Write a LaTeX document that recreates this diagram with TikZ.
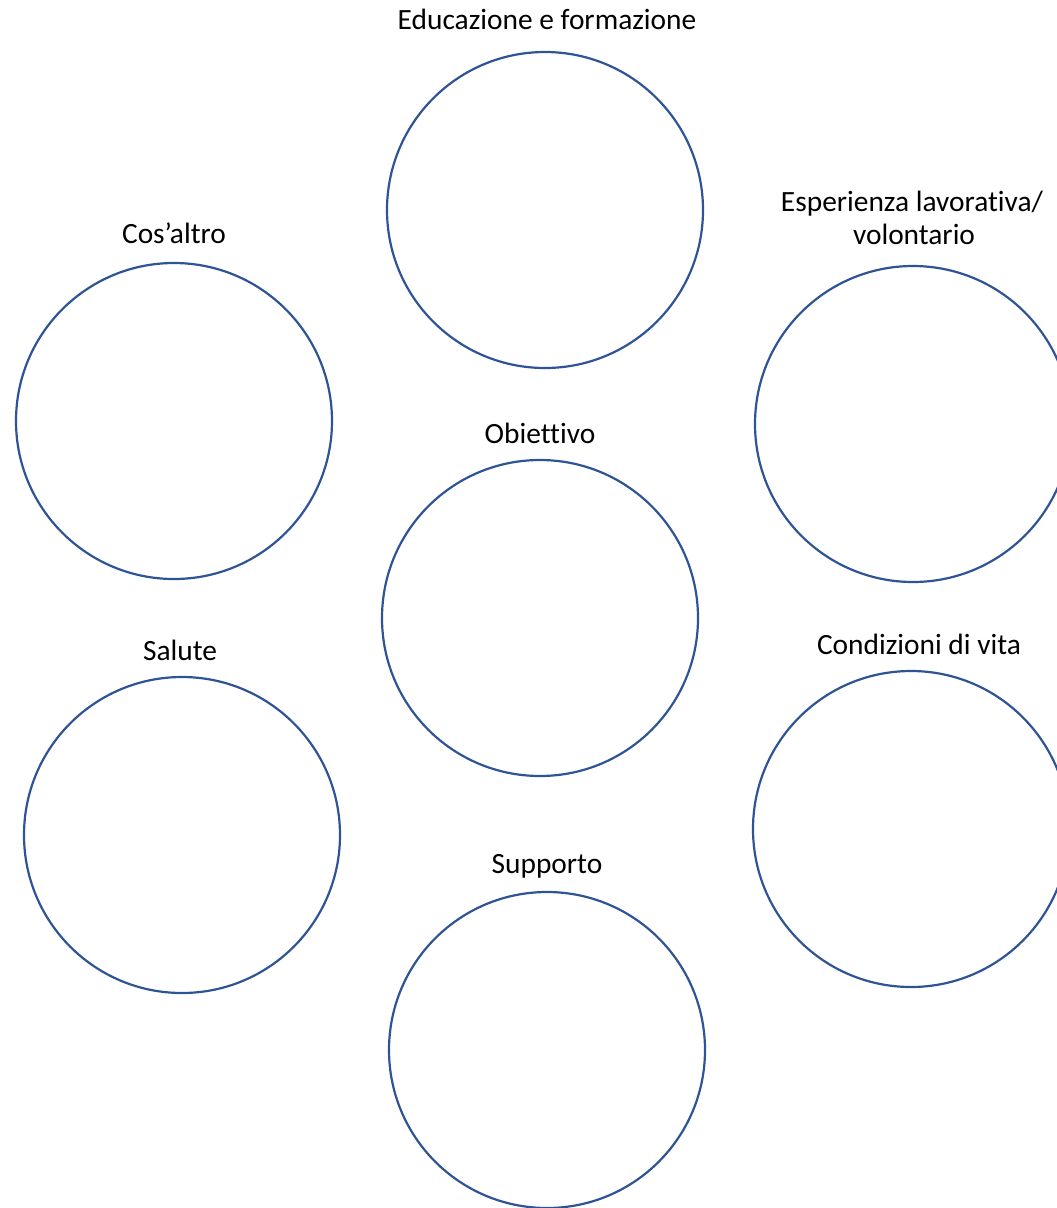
\documentclass[tikz,border=0pt]{standalone}
\usepackage{fontspec}
\setmainfont[Ligatures={NoCommon}]{Carlito}
\definecolor{ringblue}{RGB}{47,84,150}
\tikzset{
  ring/.style={circle, draw=ringblue, line width=2.2pt, minimum size=316pt, inner sep=0pt},
  lbl/.style={anchor=base, inner sep=0pt, font=\fontsize{29.4}{35}\selectfont, text=black}
}
\begin{document}
\begin{tikzpicture}[x=1pt,y=-1pt]
\useasboundingbox (0,0) rectangle (1057,1208);
\clip (0,0) rectangle (1057,1208);
\node[ring] (edu) at (545,210) {};
\node[ring] (esp) at (913,424) {};
\node[ring] (cos) at (174,421) {};
\node[ring] (obi) at (540,618) {};
\node[ring] (sal) at (182,835) {};
\node[ring] (con) at (911,829) {};
\node[ring] (sup) at (547,1050) {};
\node[lbl] (tedu) at (547,29) {Educazione e formazione};
\node[lbl] (tesp1) at (912,211) {Esperienza lavorativa/};
\node[lbl] (tesp2) at (914,244) {volontario};
\node[lbl] (tcos) at (174,243) {Cos’altro};
\node[lbl] (tobi) at (540,443) {Obiettivo};
\node[lbl] (tsal) at (180,660) {Salute};
\node[lbl] (tcon) at (919,654) {Condizioni di vita};
\node[lbl] (tsup) at (547,873) {Supporto};
\end{tikzpicture}
\end{document}
